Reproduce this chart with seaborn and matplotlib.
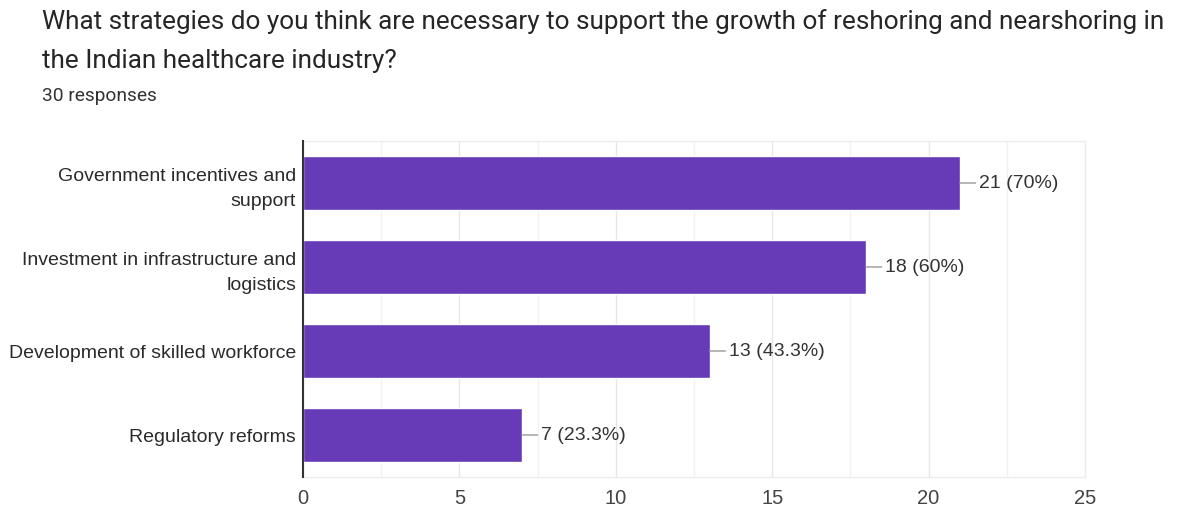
import matplotlib
matplotlib.use("Agg")
import matplotlib.pyplot as plt
import seaborn as sns
import pandas as pd
from matplotlib.ticker import MultipleLocator

categories = ["Government incentives and\nsupport",
              "Investment in infrastructure and\nlogistics",
              "Development of skilled workforce",
              "Regulatory reforms"]
counts = [21, 18, 13, 7]
labels = ["21 (70%)", "18 (60%)", "13 (43.3%)", "7 (23.3%)"]
xticks = [0, 5, 10, 15, 20, 25]

sns.set_theme(style="white")
plt.rcParams['font.family'] = ['Liberation Sans', 'DejaVu Sans']

df = pd.DataFrame({"category": categories, "count": counts})

fig = plt.figure(figsize=(11.83, 5.08), dpi=100)
ax = fig.add_axes([303/1183, 1-477/508, (1085-303)/1183, (477-141)/508])

sns.barplot(data=df, y="category", x="count", orient="h", color="#673AB7",
            saturation=1, width=0.64, ax=ax, zorder=3)

ax.set_xlim(0, 25)
ax.set_ylim(3.5, -0.5)
ax.set_xticks(xticks)
ax.xaxis.set_minor_locator(MultipleLocator(2.5))
ax.grid(True, axis="x", which="major", color="#e6e6e6", lw=1, zorder=0)
ax.grid(True, axis="x", which="minor", color="#f2f2f2", lw=1, zorder=0)
ax.set_xlabel("")
ax.set_ylabel("")
for s in ["top", "right", "bottom"]:
    ax.spines[s].set_color("#ececec")
    ax.spines[s].set_linewidth(1)
ax.spines["left"].set_color("#333333")
ax.spines["left"].set_linewidth(1.5)
ax.spines["left"].set_zorder(5)
ax.tick_params(axis="x", which="both", length=0, pad=9, labelsize=14.5, labelcolor="#444444")
ax.tick_params(axis="y", length=0, pad=5, labelsize=14, labelcolor="#2a2a2a")
for t in ax.get_yticklabels():
    t.set_horizontalalignment("right")
    t.set_multialignment("right")
    t.set_linespacing(1.6)

for i, (v, lab) in enumerate(zip(counts, labels)):
    ax.annotate(lab, xy=(v, i), xytext=(19, 0), textcoords="offset pixels",
                va="center", ha="left", fontsize=14, color="#333333",
                arrowprops=dict(arrowstyle="-", color="#999999", lw=1, shrinkA=0, shrinkB=0))

fig.text(42/1183, 1-22/508, "What strategies do you think are necessary to support the growth of reshoring and nearshoring in",
         fontsize=18.8, family=["Roboto", "DejaVu Sans"], color="#262626", va="center", ha="left")
fig.text(42/1183, 1-61/508, "the Indian healthcare industry?",
         fontsize=18.8, family=["Roboto", "DejaVu Sans"], color="#262626", va="center", ha="left")
fig.text(42/1183, 1-96/508, "30 responses",
         fontsize=13.8, family=["Roboto", "DejaVu Sans"], color="#333333", va="center", ha="left")

fig.savefig("out.png", dpi=100, facecolor="white")
